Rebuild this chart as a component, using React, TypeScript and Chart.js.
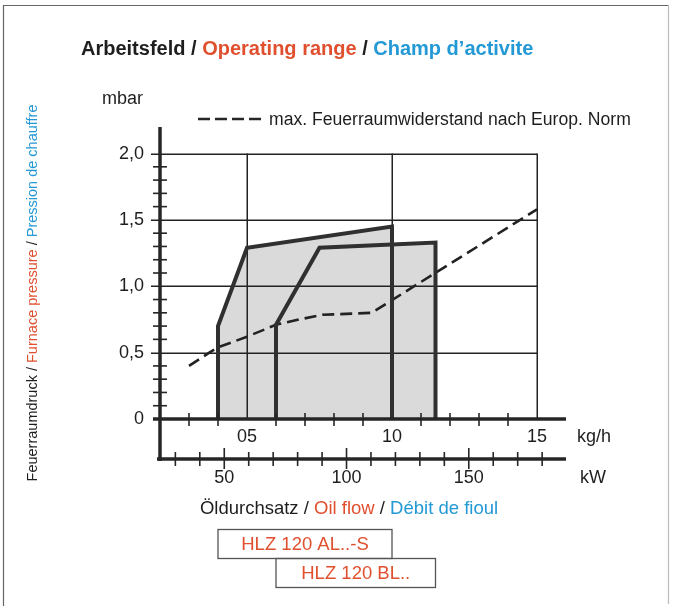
import React, { useEffect, useRef } from "react";
import { Chart, registerables } from "chart.js";

Chart.register(...registerables);

// ---------- data ----------
const alX = [4, 4, 5, 10, 10];
const alY = [0, 0.7, 1.29, 1.45, 0];
const blX = [6, 6, 7.5, 11.5, 11.5];
const blY = [0, 0.71, 1.29, 1.33, 0];
const normX = [3, 3.7, 4, 5, 6, 6.8, 7.6, 9.3, 15];
const normY = [0.4, 0.5, 0.54, 0.62, 0.71, 0.75, 0.785, 0.8, 1.58];

const yTicks = [0, 0.5, 1.0, 1.5, 2.0];
const yTickLabels = ["0", "0,5", "1,0", "1,5", "2,0"];
const yMinorTicks = [0.1, 0.2, 0.3, 0.4, 0.6, 0.7, 0.8, 0.9, 1.1, 1.2, 1.3, 1.4, 1.6, 1.7, 1.8, 1.9];
const kgTicks = [5, 10, 15];
const kgTickLabels = ["05", "10", "15"];
const kgMinorTicks = [3, 4, 6, 7, 8, 9, 11, 12, 13, 14];
const kwTicks = [50, 100, 150];
const kwTickLabels = ["50", "100", "150"];
const kwMinorTicks = [30, 40, 60, 70, 80, 90, 110, 120, 130, 140, 160, 170, 180];
const kgRange = [2, 16];
const kwPerKg = 11.86;
const yRange = [0, 2.2];
const boxAL = [4, 10];
const boxBL = [6, 11.5];

// ---------- style ----------
const FONT = '"Liberation Sans", Arial, Helvetica, sans-serif';
const INK = "#1e1e1e";
const RED = "#e0502f";
const BLUE = "#2399d6";
const FILL = "#dadada";
const LINE = "#303030";

type Run = [string, string];

function drawRuns(ctx: CanvasRenderingContext2D, parts: Run[], x: number, y: number, align: "left" | "center") {
  const total = parts.reduce((s, [t]) => s + ctx.measureText(t).width, 0);
  let cx = align === "center" ? x - total / 2 : x;
  ctx.textAlign = "left";
  for (const [t, c] of parts) {
    ctx.fillStyle = c;
    ctx.fillText(t, cx, y);
    cx += ctx.measureText(t).width;
  }
}

const decor = {
  id: "decor",
  beforeDatasetsDraw(chart: any) {
    const ctx: CanvasRenderingContext2D = chart.ctx;
    const xs = chart.scales.x;
    const ys = chart.scales.y;
    ctx.save();
    ctx.strokeStyle = "#222";
    ctx.lineWidth = 1.5;
    const xEnd = xs.getPixelForValue(15);
    for (const v of yTicks) {
      if (v === 0) continue;
      const py = Math.round(ys.getPixelForValue(v)) + 0.25;
      ctx.beginPath();
      ctx.moveTo(151, py);
      ctx.lineTo(xEnd, py);
      ctx.stroke();
    }
    for (const v of kgTicks) {
      const px = Math.round(xs.getPixelForValue(v)) + 0.25;
      ctx.beginPath();
      ctx.moveTo(px, ys.getPixelForValue(0));
      ctx.lineTo(px, ys.getPixelForValue(2.0));
      ctx.stroke();
    }
    ctx.restore();
  },
  afterDatasetsDraw(chart: any) {
    const ctx: CanvasRenderingContext2D = chart.ctx;
    const xs = chart.scales.x;
    const ys = chart.scales.y;
    const kw = chart.scales.xkw;
    const y0 = ys.getPixelForValue(0);
    const xL = xs.getPixelForValue(kgRange[0]);
    const xR = xs.getPixelForValue(kgRange[1]);
    const yTop = ys.getPixelForValue(yRange[1]);
    const kwY = 459;
    ctx.save();
    ctx.strokeStyle = "#262626";
    ctx.lineCap = "butt";

    // axes
    ctx.lineWidth = 3.5;
    ctx.beginPath();
    ctx.moveTo(xL, yTop);
    ctx.lineTo(xL, kwY + 2);
    ctx.stroke();
    ctx.beginPath();
    ctx.moveTo(153, y0);
    ctx.lineTo(xR, y0);
    ctx.stroke();
    ctx.beginPath();
    ctx.moveTo(157, kwY);
    ctx.lineTo(xR, kwY);
    ctx.stroke();

    // y minor ticks
    ctx.lineWidth = 1.6;
    for (const v of yMinorTicks) {
      const py = ys.getPixelForValue(v);
      ctx.beginPath();
      ctx.moveTo(153, py);
      ctx.lineTo(167, py);
      ctx.stroke();
    }
    // kg minor ticks
    for (const v of kgMinorTicks) {
      const px = xs.getPixelForValue(v);
      ctx.beginPath();
      ctx.moveTo(px, y0 - 6);
      ctx.lineTo(px, y0 + 7);
      ctx.stroke();
    }
    // kW ticks
    for (const v of kwMinorTicks) {
      const px = kw.getPixelForValue(v);
      ctx.beginPath();
      ctx.moveTo(px, kwY - 7);
      ctx.lineTo(px, kwY + 7);
      ctx.stroke();
    }
    for (const v of kwTicks) {
      const px = kw.getPixelForValue(v);
      ctx.beginPath();
      ctx.moveTo(px, kwY - 11);
      ctx.lineTo(px, kwY + 10);
      ctx.stroke();
    }

    // tick labels
    ctx.fillStyle = INK;
    ctx.font = `18px ${FONT}`;
    ctx.textBaseline = "middle";
    ctx.textAlign = "right";
    yTicks.forEach((v, i) => ctx.fillText(yTickLabels[i], 144, ys.getPixelForValue(v)));
    ctx.textAlign = "center";
    kgTicks.forEach((v, i) => ctx.fillText(kgTickLabels[i], xs.getPixelForValue(v), 437));
    kwTicks.forEach((v, i) => ctx.fillText(kwTickLabels[i], kw.getPixelForValue(v), 478));
    ctx.textAlign = "left";
    ctx.fillText("kg/h", 577, 437);
    ctx.fillText("kW", 580, 478);
    ctx.fillText("mbar", 102, 99);

    // legend
    ctx.save();
    ctx.lineWidth = 2.6;
    ctx.setLineDash([12, 5]);
    ctx.beginPath();
    ctx.moveTo(198, 119);
    ctx.lineTo(261, 119);
    ctx.stroke();
    ctx.restore();
    ctx.font = `17.6px ${FONT}`;
    ctx.fillStyle = INK;
    ctx.textAlign = "left";
    ctx.fillText("max. Feuerraumwiderstand nach Europ. Norm", 269, 120);

    // title
    ctx.font = `bold 20px ${FONT}`;
    drawRuns(ctx, [["Arbeitsfeld / ", INK], ["Operating range", RED], [" / ", INK], ["Champ d\u2019activite", BLUE]], 81, 49, "left");

    // x title
    ctx.font = `18.5px ${FONT}`;
    drawRuns(ctx, [["\u00d6ldurchsatz / ", INK], ["Oil flow", RED], [" / ", INK], ["D\u00e9bit de fioul", BLUE]], 349, 509, "center");

    // y title rotated
    ctx.save();
    ctx.translate(33, 293);
    ctx.rotate(-Math.PI / 2);
    ctx.font = `14.5px ${FONT}`;
    drawRuns(ctx, [["Feuerraumdruck / ", INK], ["Furnace pressure", RED], [" / ", INK], ["Pression de chauffre", BLUE]], 0, 0, "center");
    ctx.restore();

    // model boxes
    ctx.lineWidth = 1.3;
    ctx.strokeStyle = "#555";
    ctx.font = `18.5px ${FONT}`;
    const boxes: [number[], number, string][] = [
      [boxAL, 529, "HLZ 120 AL..-S"],
      [boxBL, 558, "HLZ 120 BL.."],
    ];
    for (const [r, top, label] of boxes) {
      const a = xs.getPixelForValue(r[0]);
      const b = xs.getPixelForValue(r[1]);
      ctx.strokeRect(a, top + 0.5, b - a, 29);
      ctx.fillStyle = RED;
      ctx.textAlign = "center";
      ctx.fillText(label, (a + b) / 2, top + 16);
    }

    // frame
    ctx.lineWidth = 1.2;
    ctx.strokeStyle = "#666";
    ctx.beginPath();
    ctx.moveTo(3.5, 606);
    ctx.lineTo(3.5, 5.5);
    ctx.lineTo(668.5, 5.5);
    ctx.stroke();
    ctx.strokeStyle = "#bbb";
    ctx.beginPath();
    ctx.moveTo(668.5, 5.5);
    ctx.lineTo(668.5, 604);
    ctx.stroke();
    ctx.restore();
  },
};

function pts(xs: number[], ys: number[]) {
  return xs.map((x, i) => ({ x, y: ys[i] }));
}

export default function App() {
  const ref = useRef<HTMLCanvasElement>(null);
  useEffect(() => {
    const chart = new Chart(ref.current as HTMLCanvasElement, {
      type: "line",
      data: {
        datasets: [
          {
            label: "HLZ 120 AL..-S",
            data: pts(alX, alY),
            borderColor: LINE,
            borderWidth: 4,
            backgroundColor: FILL,
            fill: "origin",
            pointRadius: 0,
            tension: 0,
            borderJoinStyle: "miter",
          },
          {
            label: "HLZ 120 BL..",
            data: pts(blX, blY),
            borderColor: LINE,
            borderWidth: 4,
            backgroundColor: FILL,
            fill: "origin",
            pointRadius: 0,
            tension: 0,
            borderJoinStyle: "miter",
          },
          {
            label: "max. Feuerraumwiderstand nach Europ. Norm",
            data: pts(normX, normY),
            borderColor: "#222",
            borderWidth: 2.6,
            borderDash: [12, 6],
            fill: false,
            pointRadius: 0,
            tension: 0,
          },
        ],
      } as any,
      options: {
        animation: false,
        responsive: false,
        devicePixelRatio: 1,
        layout: { padding: { left: 160, right: 112, top: 127, bottom: 190 } },
        scales: {
          x: { type: "linear", min: kgRange[0], max: kgRange[1], display: false },
          xkw: { type: "linear", axis: "x", position: "bottom", min: kgRange[0] * kwPerKg, max: kgRange[1] * kwPerKg, display: false },
          y: { type: "linear", min: yRange[0], max: yRange[1], display: false },
        },
        plugins: {
          legend: { display: false },
          tooltip: { enabled: false },
          filler: { drawTime: "beforeDatasetsDraw" },
        },
      } as any,
      plugins: [decor],
    });
    return () => chart.destroy();
  }, []);
  return (
    <div style={{ position: "fixed", left: 0, top: 0, width: 678, height: 609, background: "#fff" }}>
      <canvas ref={ref} width={678} height={609} style={{ display: "block", width: 678, height: 609 }} />
    </div>
  );
}
